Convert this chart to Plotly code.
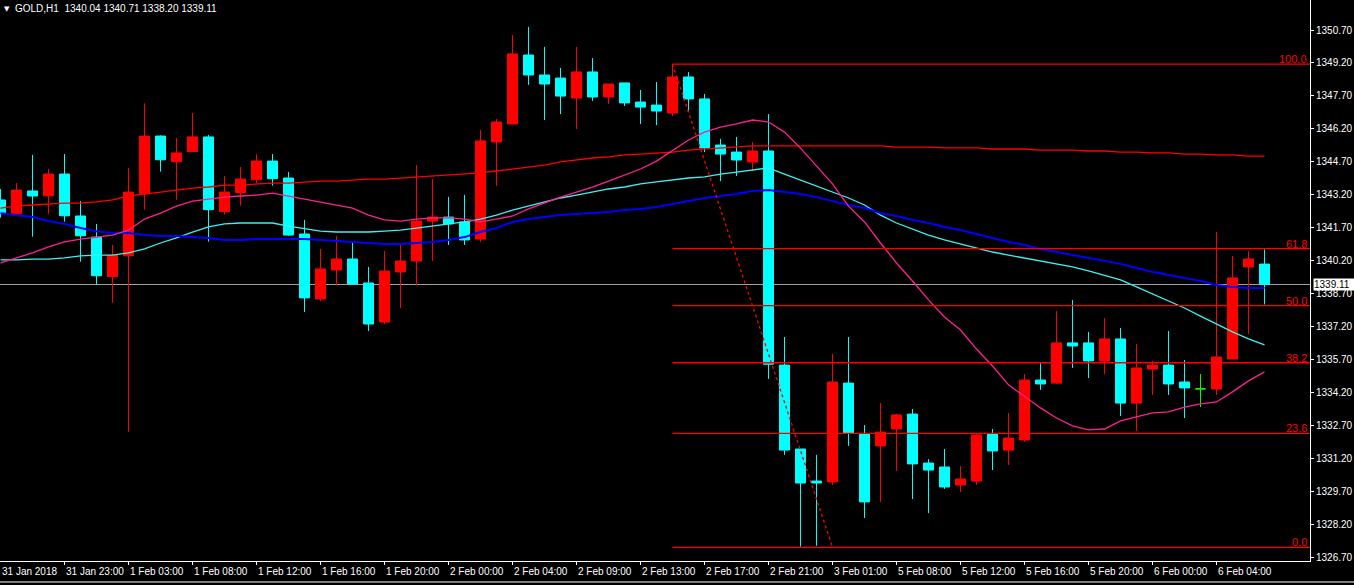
import plotly.graph_objects as go

# ---------------- data ----------------
bar_index = list(range(80))

opens = [1342.96, 1342.34, 1343.37, 1343.15, 1344.14, 1342.23, 1341.27, 1339.47, 1340.42, 1343.25,
         1345.87, 1344.70, 1345.16, 1345.83, 1342.43, 1343.29, 1343.88, 1344.73, 1343.96, 1341.41,
         1338.45, 1339.77, 1340.27, 1339.18, 1337.40, 1339.68, 1340.18, 1342.00, 1342.18, 1341.96,
         1341.18, 1345.60, 1346.42, 1349.56, 1348.65, 1348.51, 1347.60, 1348.79, 1347.65, 1348.29,
         1347.42, 1347.28, 1346.92, 1348.56, 1347.56, 1345.46, 1345.14, 1344.69, 1345.19, 1335.44,
         1331.62, 1330.16, 1330.12, 1334.62, 1332.30, 1331.76, 1332.53, 1333.21, 1330.98, 1330.80,
         1329.98, 1330.16, 1332.30, 1331.57, 1332.03, 1334.76, 1334.62, 1336.45, 1336.45, 1335.63,
         1336.63, 1333.71, 1335.26, 1335.44, 1334.67, 1334.36, 1334.35, 1335.72, 1339.91, 1340.04]
highs = [1343.46, 1343.73, 1345.01, 1344.37, 1345.05, 1342.91, 1341.87, 1340.91, 1344.42, 1347.36,
         1345.90, 1345.78, 1346.92, 1345.92, 1344.05, 1344.46, 1345.05, 1345.05, 1344.23, 1342.05,
         1340.73, 1341.32, 1341.00, 1339.91, 1340.64, 1340.91, 1344.55, 1343.91, 1343.10, 1343.19,
         1346.15, 1346.65, 1350.47, 1350.84, 1349.93, 1348.97, 1349.93, 1349.42, 1348.24, 1348.29,
         1347.97, 1348.33, 1349.15, 1348.79, 1347.79, 1345.74, 1345.83, 1345.60, 1346.87, 1336.72,
         1331.62, 1331.35, 1335.95, 1336.72, 1332.71, 1333.71, 1333.21, 1333.44, 1331.16, 1331.62,
         1330.84, 1332.30, 1332.53, 1333.26, 1335.03, 1335.54, 1337.90, 1338.40, 1336.95, 1337.58,
         1337.13, 1336.40, 1335.63, 1336.99, 1335.67, 1335.03, 1341.50, 1340.41, 1340.64, 1340.71]
lows = [1342.15, 1342.30, 1341.29, 1342.33, 1341.97, 1340.15, 1339.09, 1338.28, 1332.41, 1342.52,
        1344.25, 1342.97, 1345.16, 1341.06, 1342.29, 1342.70, 1343.73, 1343.61, 1341.32, 1337.86,
        1338.36, 1339.06, 1339.13, 1336.99, 1337.31, 1338.04, 1339.06, 1340.18, 1340.91, 1340.91,
        1341.05, 1343.60, 1346.42, 1348.20, 1346.60, 1346.87, 1346.19, 1347.47, 1347.33, 1347.24,
        1346.42, 1346.37, 1346.78, 1347.01, 1345.14, 1343.82, 1344.05, 1344.28, 1334.81, 1331.35,
        1327.17, 1327.21, 1329.98, 1331.76, 1328.48, 1329.21, 1330.62, 1329.34, 1328.70, 1329.80,
        1329.66, 1329.98, 1330.66, 1330.89, 1331.94, 1334.31, 1334.58, 1335.31, 1334.85, 1335.03,
        1333.12, 1332.44, 1334.08, 1334.08, 1333.03, 1333.53, 1334.08, 1335.72, 1336.86, 1338.20]
closes = [1342.38, 1343.41, 1343.14, 1344.14, 1342.24, 1341.33, 1339.51, 1340.44, 1343.32, 1345.87,
          1344.79, 1345.10, 1345.83, 1342.52, 1343.32, 1343.91, 1344.73, 1343.93, 1341.36, 1338.50,
          1339.82, 1340.27, 1339.13, 1337.31, 1339.72, 1340.18, 1342.00, 1342.18, 1341.87, 1341.14,
          1345.65, 1346.51, 1349.61, 1348.65, 1348.24, 1347.69, 1348.79, 1347.65, 1348.24, 1347.38,
          1347.19, 1347.01, 1348.56, 1347.56, 1345.33, 1345.05, 1344.78, 1345.19, 1335.48, 1331.57,
          1330.07, 1330.07, 1334.67, 1332.35, 1329.21, 1332.39, 1333.17, 1330.94, 1330.66, 1329.89,
          1330.25, 1332.26, 1331.53, 1332.12, 1334.76, 1334.58, 1336.45, 1336.31, 1335.63, 1336.63,
          1333.71, 1335.31, 1335.44, 1334.58, 1334.40, 1334.36, 1335.81, 1339.41, 1340.27, 1339.11]
doji_bars = [75]

ma_red = [1342.59, 1342.68, 1342.73, 1342.78, 1342.82, 1342.82, 1342.87, 1342.96, 1343.14, 1343.23,
          1343.32, 1343.41, 1343.50, 1343.55, 1343.64, 1343.64, 1343.69, 1343.73, 1343.73, 1343.78,
          1343.82, 1343.82, 1343.87, 1343.91, 1343.91, 1343.96, 1344.01, 1344.05, 1344.10, 1344.14,
          1344.19, 1344.28, 1344.37, 1344.46, 1344.55, 1344.69, 1344.78, 1344.87, 1344.92, 1345.01,
          1345.05, 1345.10, 1345.14, 1345.23, 1345.28, 1345.33, 1345.37, 1345.42, 1345.42, 1345.42,
          1345.42, 1345.42, 1345.42, 1345.42, 1345.42, 1345.42, 1345.37, 1345.37, 1345.37, 1345.33,
          1345.33, 1345.33, 1345.28, 1345.28, 1345.28, 1345.23, 1345.23, 1345.23, 1345.19, 1345.19,
          1345.14, 1345.14, 1345.10, 1345.10, 1345.05, 1345.05, 1345.01, 1345.01, 1344.96, 1344.96]
ma_blue = [1342.36, 1342.27, 1342.18, 1342.00, 1341.87, 1341.68, 1341.54, 1341.45, 1341.45, 1341.36,
           1341.32, 1341.32, 1341.27, 1341.23, 1341.14, 1341.14, 1341.18, 1341.18, 1341.18, 1341.18,
           1341.14, 1341.09, 1341.05, 1341.00, 1340.96, 1340.96, 1341.00, 1341.05, 1341.14, 1341.27,
           1341.50, 1341.68, 1341.96, 1342.09, 1342.18, 1342.27, 1342.32, 1342.36, 1342.41, 1342.50,
           1342.55, 1342.64, 1342.78, 1342.91, 1343.05, 1343.14, 1343.23, 1343.37, 1343.41, 1343.32,
           1343.23, 1343.09, 1342.91, 1342.73, 1342.59, 1342.36, 1342.23, 1342.05, 1341.91, 1341.73,
           1341.59, 1341.41, 1341.23, 1341.05, 1340.91, 1340.73, 1340.59, 1340.45, 1340.32, 1340.18,
           1340.05, 1339.86, 1339.68, 1339.54, 1339.41, 1339.27, 1339.09, 1339.00, 1338.95, 1338.95]
ma_cyan = [1340.23, 1340.23, 1340.27, 1340.27, 1340.32, 1340.41, 1340.45, 1340.45, 1340.55, 1340.73,
           1341.00, 1341.23, 1341.50, 1341.73, 1341.87, 1341.91, 1341.91, 1341.91, 1341.77, 1341.64,
           1341.54, 1341.50, 1341.50, 1341.50, 1341.54, 1341.59, 1341.68, 1341.77, 1341.87, 1341.96,
           1342.09, 1342.27, 1342.50, 1342.68, 1342.87, 1343.05, 1343.18, 1343.32, 1343.46, 1343.55,
           1343.69, 1343.78, 1343.87, 1343.96, 1344.01, 1344.14, 1344.23, 1344.32, 1344.42, 1344.14,
           1343.87, 1343.60, 1343.32, 1343.05, 1342.73, 1342.27, 1341.91, 1341.64, 1341.36, 1341.14,
           1340.96, 1340.77, 1340.59, 1340.45, 1340.32, 1340.18, 1340.05, 1339.91, 1339.73, 1339.54,
           1339.32, 1339.00, 1338.68, 1338.36, 1338.04, 1337.67, 1337.31, 1336.95, 1336.63, 1336.36]
ma_pink = [1340.09, 1340.32, 1340.55, 1340.82, 1341.05, 1341.18, 1341.27, 1341.36, 1341.59, 1342.09,
           1342.36, 1342.68, 1342.91, 1343.00, 1343.09, 1343.14, 1343.18, 1343.27, 1343.14, 1343.00,
           1342.87, 1342.73, 1342.59, 1342.27, 1342.05, 1342.00, 1342.09, 1342.14, 1342.14, 1342.09,
           1341.96, 1342.09, 1342.23, 1342.55, 1342.82, 1343.09, 1343.32, 1343.55, 1343.82, 1344.10,
           1344.37, 1344.73, 1345.23, 1345.69, 1346.05, 1346.28, 1346.42, 1346.60, 1346.51, 1346.05,
           1345.32, 1344.50, 1343.69, 1342.68, 1341.96, 1341.00, 1340.09, 1339.27, 1338.41, 1337.63,
           1337.04, 1336.17, 1335.40, 1334.54, 1334.03, 1333.49, 1333.03, 1332.67, 1332.49, 1332.53,
           1332.90, 1333.08, 1333.26, 1333.31, 1333.53, 1333.67, 1333.76, 1334.22, 1334.72, 1335.13]

time_tick_bars = [0, 4, 8, 12, 16, 20, 24, 28, 32, 36, 40, 44, 48, 52, 56, 60, 64, 68, 72, 76]
time_tick_labels = ["31 Jan 2018", "31 Jan 23:00", "1 Feb 03:00", "1 Feb 08:00", "1 Feb 12:00",
                    "1 Feb 16:00", "1 Feb 20:00", "2 Feb 00:00", "2 Feb 04:00", "2 Feb 09:00",
                    "2 Feb 13:00", "2 Feb 17:00", "2 Feb 21:00", "3 Feb 01:00", "5 Feb 08:00",
                    "5 Feb 12:00", "5 Feb 16:00", "5 Feb 20:00", "6 Feb 00:00", "6 Feb 04:00"]

price_tick_labels = ["1350.70", "1349.20", "1347.70", "1346.20", "1344.70", "1343.20", "1341.70",
                     "1340.20", "1338.70", "1337.20", "1335.70", "1334.20", "1332.70", "1331.20",
                     "1329.70", "1328.20", "1326.70"]
price_tick_values = [float(s) for s in price_tick_labels]

fib_levels = [0.0, 23.6, 38.2, 50.0, 61.8, 100.0]
fib_high = 1349.15
fib_low = 1327.14
fib_start_bar = 42
fib_end_bar = 52

symbol = "GOLD,H1"
last_price = closes[-1]

# ---------------- figure ----------------
X_MIN, X_MAX = -0.03125, 81.84375
Y_MIN, Y_MAX = 1326.519, 1352.066

fig = go.Figure()

ma_styles = [(ma_red, "#ff0000", 1.3), (ma_cyan, "#40f0f0", 1.3), (ma_blue, "#0000ff", 2), (ma_pink, "#ff2090", 1.3)]
for series, color, w in ma_styles:
    fig.add_trace(go.Scatter(x=bar_index, y=series, mode="lines",
                             line=dict(color=color, width=w), hoverinfo="skip"))

main = [i for i in bar_index if i not in doji_bars]
fig.add_trace(go.Candlestick(
    x=main,
    open=[opens[i] for i in main], high=[highs[i] for i in main],
    low=[lows[i] for i in main], close=[closes[i] for i in main],
    increasing=dict(line=dict(color="#ff0000", width=1), fillcolor="#ff0000"),
    decreasing=dict(line=dict(color="#00ffff", width=1), fillcolor="#00ffff"),
    whiskerwidth=0,
))
fig.add_trace(go.Candlestick(
    x=doji_bars,
    open=[opens[i] for i in doji_bars], high=[highs[i] for i in doji_bars],
    low=[lows[i] for i in doji_bars], close=[closes[i] for i in doji_bars],
    increasing=dict(line=dict(color="#00ff00", width=1), fillcolor="#00ff00"),
    decreasing=dict(line=dict(color="#00ff00", width=1), fillcolor="#00ff00"),
    whiskerwidth=0,
))

shapes = []
# bid line
shapes.append(dict(type="line", xref="x", yref="y", x0=X_MIN, x1=X_MAX, y0=last_price, y1=last_price,
                   line=dict(color="#a0a0a0", width=1), layer="below"))
# fibonacci levels
annotations = []
for lvl in fib_levels:
    price = fib_low + (fib_high - fib_low) * lvl / 100.0
    shapes.append(dict(type="line", xref="x", yref="y", x0=fib_start_bar, x1=X_MAX, y0=price, y1=price,
                       line=dict(color="#ff0000", width=1.3), layer="above"))
    annotations.append(dict(x=X_MAX, y=price, xref="x", yref="y", text=f"{lvl:.1f}", showarrow=False,
                            xanchor="right", yanchor="bottom", xshift=-1, yshift=-3,
                            font=dict(color="#ff0000", size=11, family="Liberation Sans")))
# fib trend line (dotted)
shapes.append(dict(type="line", xref="x", yref="y", x0=fib_start_bar, x1=fib_end_bar, y0=fib_high, y1=fib_low,
                   line=dict(color="#ff0000", width=1.3, dash="dot"), layer="above"))
# window bottom line
shapes.append(dict(type="line", xref="paper", yref="paper", x0=0, x1=1.04, y0=-0.0374, y1=-0.0374,
                   line=dict(color="white", width=1)))

# time labels (left-aligned at tick like MT4)
for b, t in zip(time_tick_bars, time_tick_labels):
    annotations.append(dict(x=b, y=0, xref="x", yref="paper", text=t, showarrow=False,
                            xanchor="left", yanchor="top", xshift=-1, yshift=-3,
                            font=dict(color="white", size=10, family="Liberation Sans")))

# current price box
annotations.append(dict(x=1, y=last_price, xref="paper", yref="y", text=f"{last_price:.2f}", showarrow=False,
                        xanchor="left", yanchor="middle", xshift=3, bgcolor="white", borderpad=0,
                        width=40, height=11, align="left",
                        font=dict(color="black", size=10, family="Liberation Sans")))

# header
annotations.append(dict(x=0, y=1, xref="paper", yref="paper", text="▼", showarrow=False,
                        xanchor="left", yanchor="top", xshift=2, yshift=-3,
                        font=dict(color="white", size=7, family="DejaVu Sans")))
header = f"{symbol}\u00a0\u00a0{opens[-1]:.2f} {highs[-1]:.2f} {lows[-1]:.2f} {closes[-1]:.2f}"
annotations.append(dict(x=0, y=1, xref="paper", yref="paper", text=header, showarrow=False,
                        xanchor="left", yanchor="top", xshift=13, yshift=-1,
                        font=dict(color="white", size=10, family="Liberation Sans")))

fig.update_layout(
    width=1354, height=585,
    margin=dict(l=0, r=44, t=0, b=24),
    paper_bgcolor="black", plot_bgcolor="black",
    showlegend=False,
    boxgap=0.375, boxgroupgap=0, boxmode="overlay",
    xaxis=dict(range=[X_MIN, X_MAX], showgrid=False, zeroline=False,
               showline=True, linecolor="white", linewidth=1,
               tickmode="array", tickvals=time_tick_bars[1:], ticks="outside", ticklen=3,
               tickcolor="white", showticklabels=False,
               rangeslider=dict(visible=False), fixedrange=True),
    yaxis=dict(range=[Y_MIN, Y_MAX], side="right", showgrid=False, zeroline=False,
               showline=True, linecolor="white", linewidth=1,
               tickmode="array", tickvals=price_tick_values, ticktext=price_tick_labels,
               ticks="outside", ticklen=3, tickcolor="white", automargin=False,
               tickfont=dict(color="white", size=10, family="Liberation Sans"), fixedrange=True),
    shapes=shapes,
    annotations=annotations,
)

fig.write_html(
    "out.html",
    config={"displayModeBar": False},
    post_script="document.body.style.margin='0';document.body.style.overflow='hidden';"
                "document.body.style.background='black';",
)
